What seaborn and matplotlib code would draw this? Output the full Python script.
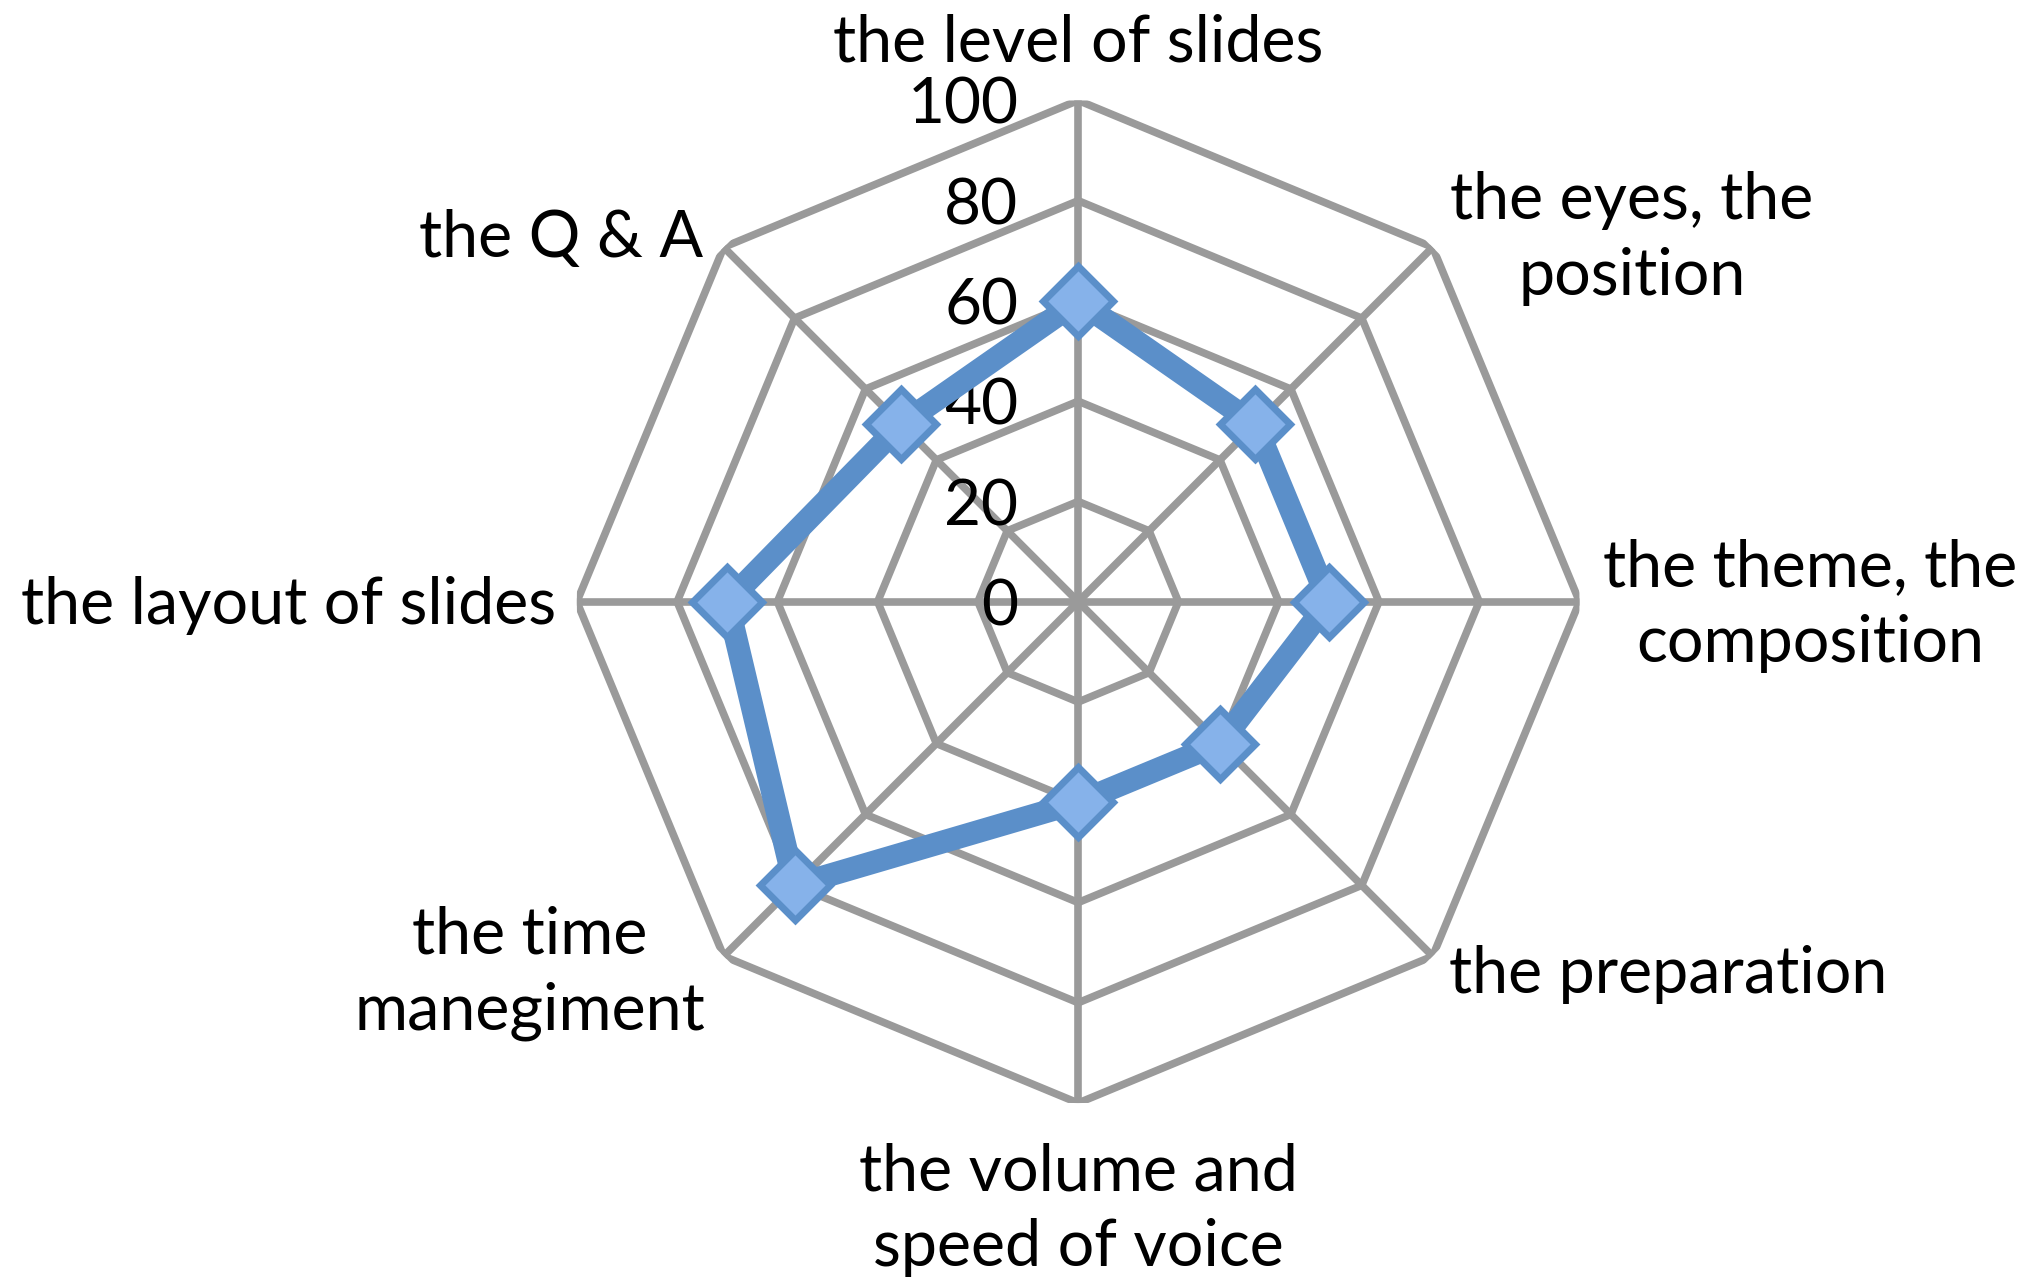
import numpy as np
import matplotlib
matplotlib.use("Agg")
import matplotlib.pyplot as plt
import matplotlib.transforms as mtransforms
import seaborn as sns

sns.set_theme(style="white")
plt.rcParams['font.family'] = ['Lato', 'DejaVu Sans']

# data
categories = ["the level of slides", "the eyes, the\nposition", "the theme, the\ncomposition",
              "the preparation", "the volume and\nspeed of voice", "the time\nmanegiment",
              "the layout of slides", "the Q & A"]
scores = [60, 50, 50, 40, 40, 80, 70, 50]
ring_levels = [20, 40, 60, 80, 100]
tick_labels = ["0", "20", "40", "60", "80", "100"]

n = len(categories)
angles = np.linspace(0, 2 * np.pi, n, endpoint=False)
closed_angles = np.append(angles, angles[0])
closed_scores = scores + scores[:1]

fig = plt.figure(figsize=(20.42, 12.83), dpi=100)
ax = fig.add_axes([0.2825, 0.140, 0.491, 0.782], projection="polar")
ax.set_theta_zero_location("N")
ax.set_theta_direction(-1)
ax.set_ylim(0, 100)
ax.grid(False)
ax.spines["polar"].set_visible(False)
ax.set_xticks([])
ax.set_yticks([])
ax.patch.set_alpha(0)

grid_col = "#9a9a9a"
# octagon rings
for lvl in ring_levels:
    ax.plot(closed_angles, [lvl] * (n + 1), color=grid_col, lw=5.5, zorder=1,
            solid_joinstyle="miter")
# spokes
for a in angles:
    ax.plot([a, a], [0, 100], color=grid_col, lw=5.5, zorder=1)

# radial value labels left of the top spoke
off = mtransforms.offset_copy(ax.transData, fig=fig, x=-43, y=-4, units="points")
for lvl, lab in zip([0] + ring_levels, tick_labels):
    ax.text(0, lvl, lab, transform=off, ha="right", va="center", fontsize=46, color="black")

# data series
ax.plot(closed_angles, closed_scores, color="#5b8fc9", lw=16.5, zorder=3,
        solid_joinstyle="miter")
ax.plot(angles, scores, linestyle="none", marker="D", markersize=36,
        markerfacecolor="#86b2ea", markeredgecolor="#5b8fc9", markeredgewidth=5, zorder=4)

# category labels
label_pos = [
    (828, 33, "center"),
    (1253, 183, "center"),
    (1390, 465, "center"),
    (1113, 748, "left"),
    (828, 929, "center"),
    (407, 747, "center"),
    (427, 465, "right"),
    (540, 183, "right"),
]
for txt, (px, py, ha) in zip(categories, label_pos):
    fig.text(px / 1568, 1 - py / 985, txt, ha=ha, va="center", fontsize=46.5,
             color="black", linespacing=1.35, multialignment="center")

fig.savefig("out.png", dpi=100)
